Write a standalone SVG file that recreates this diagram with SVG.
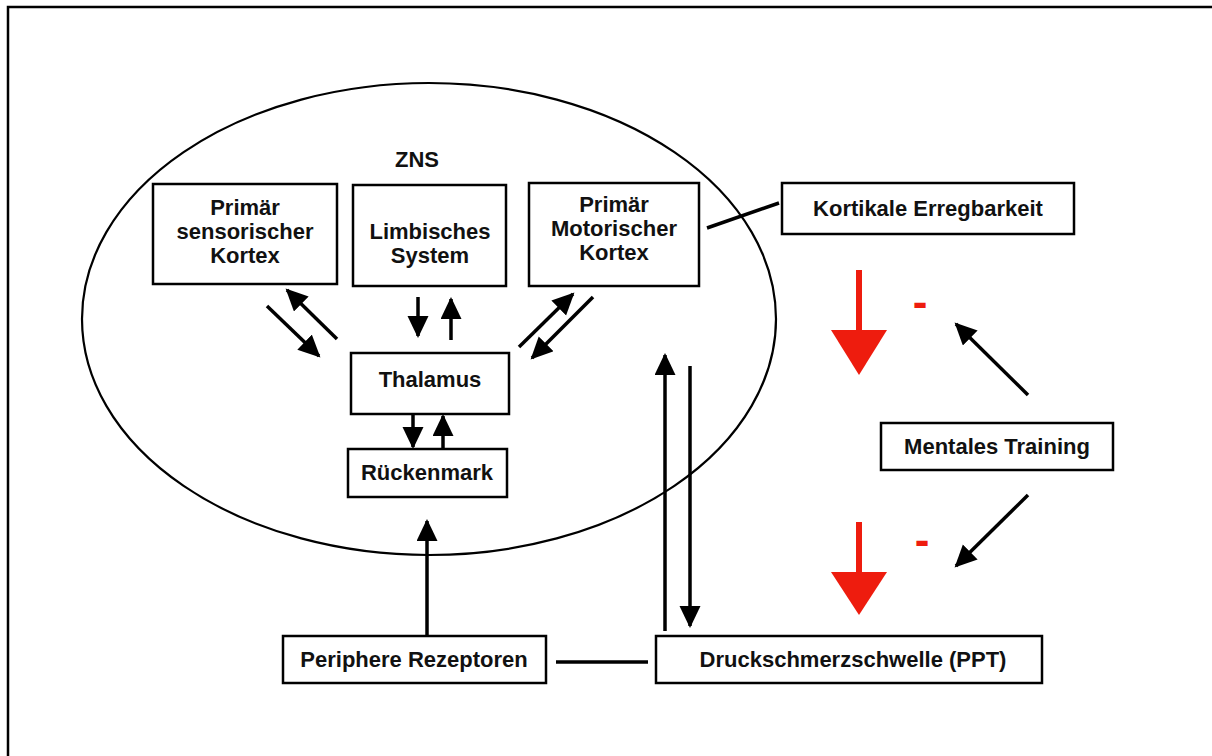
<svg xmlns="http://www.w3.org/2000/svg" width="1212" height="756" viewBox="0 0 1212 756">
<style>
.box{fill:#fff;stroke:#000;stroke-width:2.5}
.t{font-family:"Liberation Sans",Arial,sans-serif;font-weight:bold;font-size:22px;fill:#111;text-anchor:middle}
.c{stroke:#000;stroke-width:3.5;fill:none}
.a{stroke:#000;stroke-width:3.5;fill:none;marker-end:url(#ah)}
.red{fill:#ee1c0e}
.minus{font-family:"Liberation Sans",Arial,sans-serif;font-weight:bold;font-size:44px;fill:#ee1c0e;text-anchor:middle}
</style>
<defs>
<marker id="ah" markerUnits="userSpaceOnUse" markerWidth="24" markerHeight="22" refX="20" refY="10.5" orient="auto" viewBox="0 0 24 22">
<path d="M0,0 L22,10.5 L0,21 z" fill="#000"/>
</marker>
</defs>
<rect width="1212" height="756" fill="#fff"/>
<path d="M8,756 L8,7 L1212,7" fill="none" stroke="#000" stroke-width="2.5"/>

<g id="zns">
<ellipse cx="429" cy="319" rx="347" ry="236" fill="none" stroke="#000" stroke-width="2.2"/>
<text class="t" x="417" y="167">ZNS</text>
</g>

<g id="connectors">
<line class="c" x1="707" y1="228" x2="779" y2="203"/>
<line class="c" x1="556" y1="662" x2="648" y2="662"/>
<line class="a" x1="337" y1="339" x2="287" y2="290"/>
<line class="a" x1="267" y1="306" x2="319" y2="356"/>
<line class="a" x1="418" y1="297" x2="418" y2="336"/>
<line class="a" x1="451" y1="340" x2="451" y2="299"/>
<line class="a" x1="519" y1="347" x2="573" y2="294"/>
<line class="a" x1="593" y1="297" x2="532" y2="358"/>
<line class="a" x1="413" y1="414" x2="413" y2="447"/>
<line class="a" x1="443" y1="449" x2="443" y2="416"/>
<line class="a" x1="427" y1="636" x2="427" y2="521"/>
<line class="a" x1="665" y1="631" x2="665" y2="355"/>
<line class="a" x1="690" y1="366" x2="690" y2="626"/>
<line class="a" x1="1028" y1="395" x2="956" y2="324"/>
<line class="a" x1="1028" y1="495" x2="956" y2="566"/>
</g>

<g id="sensorisch">
<rect class="box" x="153" y="184" width="184" height="100"/>
<text class="t" x="245" y="215">Primär</text>
<text class="t" x="245" y="239">sensorischer</text>
<text class="t" x="245" y="263">Kortex</text>
</g>
<g id="limbisch">
<rect class="box" x="353" y="185" width="153" height="101"/>
<text class="t" x="430" y="239">Limbisches</text>
<text class="t" x="430" y="263">System</text>
</g>
<g id="motorisch">
<rect class="box" x="529" y="183" width="170" height="103"/>
<text class="t" x="614" y="212">Primär</text>
<text class="t" x="614" y="236">Motorischer</text>
<text class="t" x="614" y="260">Kortex</text>
</g>
<g id="kortikale">
<rect class="box" x="782" y="183" width="292" height="51"/>
<text class="t" x="928" y="216">Kortikale Erregbarkeit</text>
</g>
<g id="thalamus">
<rect class="box" x="351" y="353" width="158" height="61"/>
<text class="t" x="430" y="387">Thalamus</text>
</g>
<g id="rueckenmark">
<rect class="box" x="348" y="449" width="159" height="48"/>
<text class="t" x="427" y="480">Rückenmark</text>
</g>
<g id="mentales">
<rect class="box" x="881" y="423" width="232" height="47"/>
<text class="t" x="997" y="454">Mentales Training</text>
</g>
<g id="periphere">
<rect class="box" x="283" y="636" width="263" height="47"/>
<text class="t" x="414" y="667">Periphere Rezeptoren</text>
</g>
<g id="ppt">
<rect class="box" x="656" y="636" width="386" height="47"/>
<text class="t" x="853" y="667">Druckschmerzschwelle (PPT)</text>
</g>
<g id="red-arrow-1">
<rect class="red" x="856" y="270" width="6" height="62"/>
<polygon class="red" points="831,330 887,330 859,375"/>
<text class="minus" x="920" y="317">-</text>
</g>
<g id="red-arrow-2">
<rect class="red" x="856" y="522" width="6" height="52"/>
<polygon class="red" points="831,572 887,572 859,615"/>
<text class="minus" x="922" y="555">-</text>
</g>
</svg>
